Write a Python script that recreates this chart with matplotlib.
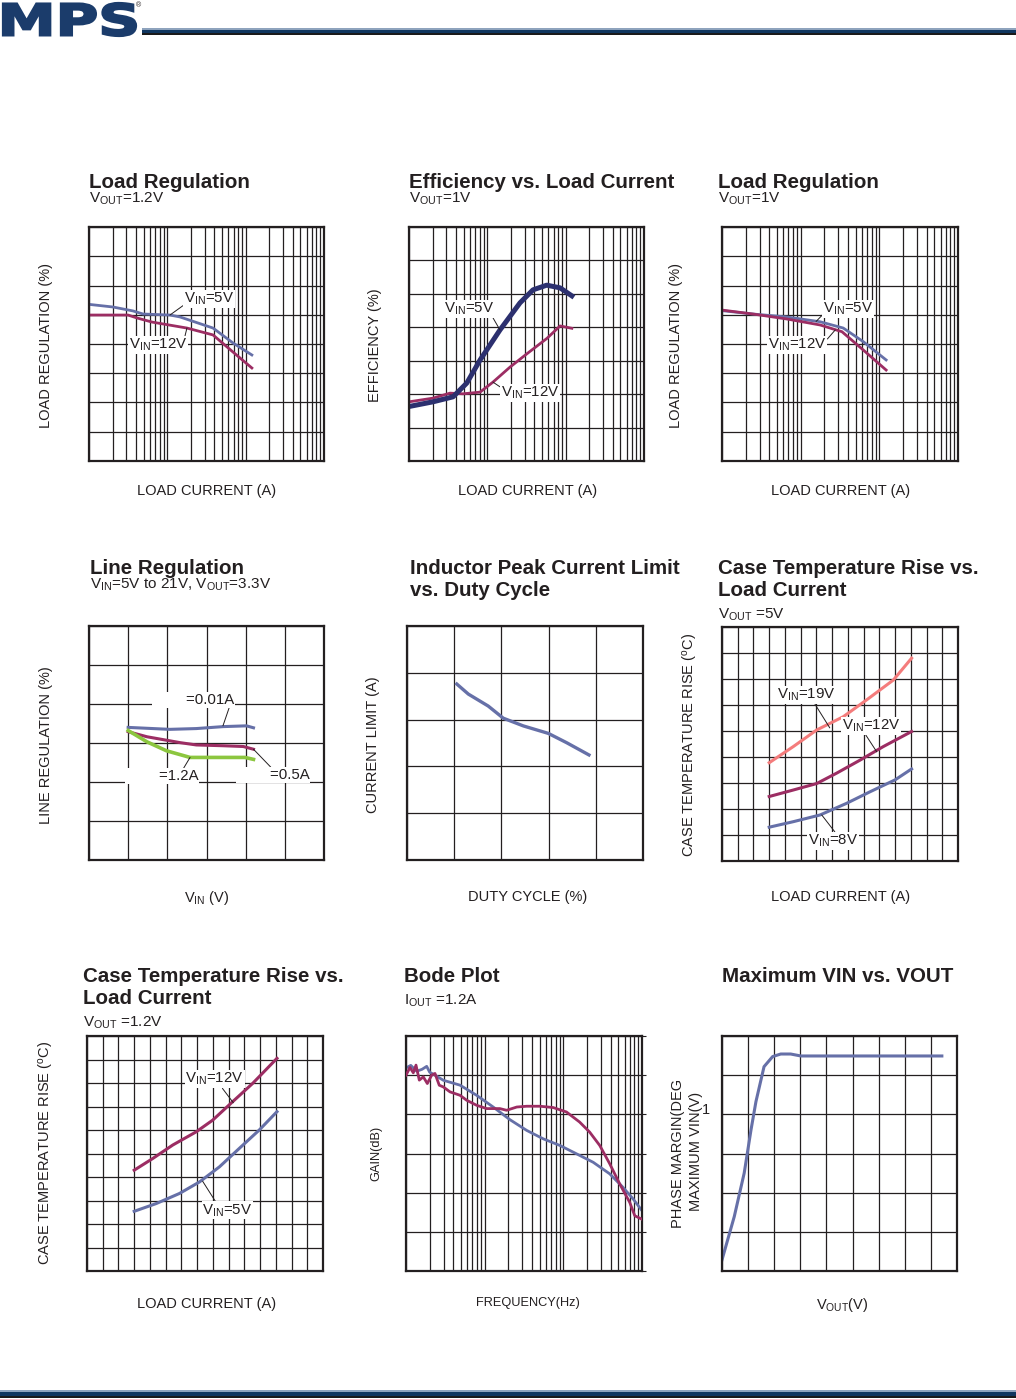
import numpy as np
import matplotlib
matplotlib.use("Agg")
import matplotlib.pyplot as plt
from matplotlib.ticker import MultipleLocator, LogLocator
from matplotlib.textpath import TextPath
from matplotlib.patches import PathPatch, Rectangle
from matplotlib.font_manager import FontProperties
from matplotlib.transforms import Affine2D

plt.rcParams['font.family'] = 'Liberation Sans'
plt.rcParams['mathtext.fontset'] = 'custom'
plt.rcParams['mathtext.rm'] = 'Liberation Sans'
plt.rcParams['mathtext.it'] = 'Liberation Sans:italic'
plt.rcParams['mathtext.bf'] = 'Liberation Sans:bold'

# ---- data ----
# load regulation, Vout=1.2V
lr12_i5 = [0.01, 0.0202, 0.0365, 0.049, 0.108, 0.145, 0.383, 0.689, 1.2]
lr12_v5 = [0.271, 0.253, 0.226, 0.205, 0.198, 0.185, 0.109, 0.007, -0.075]
lr12_i12 = [0.01, 0.0315, 0.041, 0.0637, 0.178, 0.383, 0.689, 1.2]
lr12_v12 = [0.198, 0.198, 0.178, 0.150, 0.109, 0.062, -0.055, -0.164]

# efficiency vs load current
eff_i5 = [0.01, 0.0202, 0.0365, 0.0546, 0.0807, 0.145, 0.261, 0.383, 0.573, 0.848, 1.2]
eff_5 = [46.3, 47.7, 49.2, 53.3, 60.2, 69.2, 77.3, 81.2, 82.6, 81.8, 79.4]
eff_i12 = [0.01, 0.0202, 0.0334, 0.049, 0.0807, 0.118, 0.195, 0.321, 0.578, 0.848, 1.2]
eff_12 = [47.7, 48.8, 50.3, 50.1, 50.6, 53.6, 58.1, 62.1, 66.7, 70.4, 69.7]

# load regulation, Vout=1V
lr1_i5 = [0.01, 0.0248, 0.0667, 0.177, 0.348, 0.625, 1.22]
lr1_v5 = [0.228, 0.205, 0.185, 0.152, 0.109, 0.016, -0.109]
lr1_i12 = [0.01, 0.0248, 0.0667, 0.177, 0.335, 0.625, 1.22]
lr1_v12 = [0.232, 0.205, 0.171, 0.130, 0.084, -0.041, -0.178]

# line regulation
vin_001 = [5, 10.3, 13.7, 17.1, 20.1, 21]
reg_001 = [0.040, 0.035, 0.037, 0.042, 0.044, 0.039]
vin_05 = [5, 7.4, 11.6, 13.7, 17.1, 19.7, 21]
reg_05 = [0.029, 0.016, 0.001, -0.005, -0.007, -0.009, -0.016]
vin_12 = [5, 7.4, 9.9, 12.9, 15.9, 19.9, 21]
reg_12 = [0.032, 0.003, -0.020, -0.037, -0.037, -0.037, -0.042]

# inductor peak current limit vs duty cycle
duty = [21.1, 26, 34.4, 40.8, 49.3, 59.9, 67.7, 77.1]
ilim = [7.52, 7.09, 6.58, 6.06, 5.73, 5.41, 5.01, 4.49]

# case temperature rise, Vout=5V
t5_i19 = [0.6, 0.906, 1.204, 1.542, 1.84, 2.178, 2.41]
t5_19 = [18.9, 22.0, 25.2, 27.75, 31.0, 34.8, 39.0]
t5_i12 = [0.6, 0.906, 1.204, 1.458, 1.755, 2.05, 2.41]
t5_12 = [12.4, 13.65, 14.9, 16.9, 19.4, 22.0, 24.9]
t5_i8 = [0.6, 0.906, 1.246, 1.585, 1.88, 2.2, 2.41]
t5_8 = [6.5, 7.56, 8.85, 11.1, 13.3, 15.6, 17.7]

# case temperature rise, Vout=1.2V
t12_i12 = [0.6, 0.837, 1.09, 1.387, 1.598, 1.85, 2.105, 2.415]
t12_12 = [21.45, 23.95, 26.8, 29.6, 32.1, 36.0, 39.9, 45.25]
t12_i5 = [0.6, 0.88, 1.176, 1.43, 1.683, 1.937, 2.19, 2.415]
t12_5 = [12.7, 14.35, 16.5, 18.95, 22.15, 26.1, 30.0, 33.9]

# bode plot
gain_f = [1020, 1150, 1368, 1600, 1833, 2000, 2224, 2980, 4858, 7916, 12870, 20900,
          34200, 55500, 90500, 147000, 240000, 389000, 574000, 771000, 1000000]
gain_db = [43.9, 45.0, 42.0, 43.0, 44.5, 41.5, 40.5, 37.4, 34.9, 29.7, 23.7, 17.3,
           11.8, 7.5, 4.1, -0.15, -4.5, -10.4, -17.3, -23.2, -29.2]
phase_f = [1000, 1124, 1238, 1340, 1476, 1660, 1866, 2121, 2335, 2647, 2978, 3624,
           4858, 5902, 7916, 10600, 15600, 19000, 25600, 34200, 50400, 74300, 109600,
           161000, 216000, 290000, 389000, 521000, 699000, 810000, 988000]
phase_deg = [150, 155.9, 151.8, 157.7, 146.2, 148.7, 143.6, 150, 151.3, 142.3, 141, 137.2,
             134.6, 130.8, 126.9, 124.4, 124.4, 123.1, 125.6, 126.2, 126.2, 125.2, 121.8,
             114.1, 106.4, 96.2, 82.1, 66.7, 52.5, 42.3, 39.8]

# maximum vin vs vout
vout = [0, 0.47, 0.85, 1.11, 1.30, 1.61, 1.94, 2.25, 2.63, 3.02, 8.42]
vin_max = [1.14, 5.56, 10.0, 14.4, 17.3, 20.87, 21.9, 22.16, 22.16, 21.96, 21.96]

BLUE = '#6670a8'
MAG = '#9c2d63'
NAVY = '#2c306f'
GREEN = '#8cc63f'
PINK = '#f47c7c'
INK = '#231f20'

W, H = 1016, 1399
fig = plt.figure(figsize=(W / 100, H / 100), dpi=100)


def add_ax(l, t, r, b):
    return fig.add_axes([l / W, 1 - b / H, (r - l) / W, (b - t) / H])


def ftext(x, y, s, **kw):
    kw.setdefault('color', INK)
    fig.text(x / W, 1 - y / H, s, **kw)


def style(ax, xlog=False, xstep=None, ystep=None):
    if xlog:
        ax.set_xscale('log')
        ax.xaxis.set_major_locator(LogLocator(base=10))
        ax.xaxis.set_minor_locator(LogLocator(base=10, subs=np.arange(2, 10)))
    else:
        ax.xaxis.set_major_locator(MultipleLocator(xstep))
    ax.yaxis.set_major_locator(MultipleLocator(ystep))
    ax.grid(True, which='both', color=INK, lw=0.9)
    ax.tick_params(which='both', length=0, labelbottom=False, labelleft=False)
    for s in ax.spines.values():
        s.set_linewidth(1.6)
        s.set_color(INK)


def label(ax, s, xy, xytext, relpos=(0, 0), size=10.8):
    ax.annotate(s, xy=xy, xytext=xytext, fontsize=size, ha='left', va='center', color=INK,
                bbox=dict(fc='white', ec='none', pad=0.6),
                arrowprops=dict(arrowstyle='-', lw=0.7, color=INK, relpos=relpos,
                                shrinkA=0, shrinkB=0))


TS = 14.8   # title size
SS = 11     # subtitle size
LS = 10.5   # axis label size

# ---------- row 1 ----------
ax1 = add_ax(89, 227, 324, 461)
style(ax1, xlog=True, ystep=0.2)
ax1.set_xlim(0.01, 10)
ax1.set_ylim(-0.8, 0.8)
ax1.plot(lr12_i5, lr12_v5, color=BLUE, lw=2.0)
ax1.plot(lr12_i12, lr12_v12, color=MAG, lw=2.0)
label(ax1, r'V$_{\rm IN}$=5V', (0.108, 0.198), (0.163, 0.308), relpos=(0.03, 0.2))
label(ax1, r'V$_{\rm IN}$=12V', (0.178, 0.109), (0.0324, -0.007), relpos=(0.92, 0.5))

ax2 = add_ax(409, 227, 644, 461)
style(ax2, xlog=True, ystep=10)
ax2.set_xlim(0.01, 10)
ax2.set_ylim(30, 100)
ax2.plot(eff_i12, eff_12, color=MAG, lw=2.0)
ax2.plot(eff_i5, eff_5, color=NAVY, lw=3.6)
label(ax2, r'V$_{\rm IN}$=5V', (0.145, 69.2), (0.028, 75.5), relpos=(0.95, 0.1))
label(ax2, r'V$_{\rm IN}$=12V', (0.118, 53.6), (0.149, 50.3), relpos=(0.02, 0.8))

ax3 = add_ax(722, 227, 958, 461)
style(ax3, xlog=True, ystep=0.2)
ax3.set_xlim(0.01, 10)
ax3.set_ylim(-0.8, 0.8)
ax3.plot(lr1_i5, lr1_v5, color=BLUE, lw=2.0)
ax3.plot(lr1_i12, lr1_v12, color=MAG, lw=2.0)
label(ax3, r'V$_{\rm IN}$=5V', (0.157, 0.154), (0.194, 0.239), relpos=(0.0, 0.2))
label(ax3, r'V$_{\rm IN}$=12V', (0.275, 0.096), (0.0385, -0.007), relpos=(0.95, 0.6))

ftext(89, 188, 'Load Regulation', fontsize=TS, fontweight='bold')
ftext(409, 188, 'Efficiency vs. Load Current', fontsize=TS, fontweight='bold')
ftext(718, 188, 'Load Regulation', fontsize=TS, fontweight='bold')
ftext(89, 203, r'V$_{\rm OUT}$=1.2V', fontsize=SS)
ftext(409, 203, r'V$_{\rm OUT}$=1V', fontsize=SS)
ftext(718, 203, r'V$_{\rm OUT}$=1V', fontsize=SS)
for x in (207, 528, 841):
    ftext(x, 491, 'LOAD CURRENT (A)', fontsize=LS, ha='center', va='center')
ftext(46, 345, 'LOAD REGULATION (%)', fontsize=LS, rotation=90, ha='center', va='center')
ftext(375, 345, 'EFFICIENCY (%)', fontsize=LS, rotation=90, ha='center', va='center')
ftext(676, 345, 'LOAD REGULATION (%)', fontsize=LS, rotation=90, ha='center', va='center')

# ---------- row 2 ----------
ax4 = add_ax(89, 626, 324, 860)
style(ax4, xstep=5, ystep=0.1)
ax4.set_xlim(0, 30)
ax4.set_ylim(-0.3, 0.3)
ax4.plot(vin_001, reg_001, color=BLUE, lw=2.2)
ax4.plot(vin_05, reg_05, color=MAG, lw=2.2)
ax4.plot(vin_12, reg_12, color=GREEN, lw=2.6)
label(ax4, '        =0.01A', (17.1, 0.044), (8.17, 0.110), relpos=(0.94, 0.0))
label(ax4, '        =1.2A', (12.9, -0.037), (4.68, -0.085), relpos=(0.79, 1.0))
label(ax4, '        =0.5A', (21.0, -0.016), (18.85, -0.082), relpos=(0.48, 1.0))

ax5 = add_ax(407, 626, 643, 860)
style(ax5, xstep=20, ystep=2)
ax5.set_xlim(0, 100)
ax5.set_ylim(0, 10)
ax5.plot(duty, ilim, color=BLUE, lw=2.4)

ax6 = add_ax(722, 627, 958, 861)
style(ax6, xstep=0.2, ystep=5)
ax6.set_xlim(0, 3)
ax6.set_ylim(0, 45)
ax6.plot(t5_i19, t5_19, color=PINK, lw=2.2)
ax6.plot(t5_i12, t5_12, color=MAG, lw=2.2)
ax6.plot(t5_i8, t5_8, color=BLUE, lw=2.2)
label(ax6, r'V$_{\rm IN}$=19V', (1.37, 25.6), (0.70, 31.9), relpos=(0.64, 0.0))
label(ax6, r'V$_{\rm IN}$=12V', (1.967, 21.0), (1.526, 26.0), relpos=(0.34, 0.3))
label(ax6, r'V$_{\rm IN}$=8V', (1.268, 8.85), (1.093, 3.85), relpos=(0.55, 1.0))

ftext(90, 574, 'Line Regulation', fontsize=TS, fontweight='bold')
ftext(90, 589, r'V$_{\rm IN}$=5V to 21V, V$_{\rm OUT}$=3.3V', fontsize=SS)
ftext(410, 574, 'Inductor Peak Current Limit', fontsize=TS, fontweight='bold')
ftext(410, 596, 'vs. Duty Cycle', fontsize=TS, fontweight='bold')
ftext(718, 574, 'Case Temperature Rise vs.', fontsize=TS, fontweight='bold')
ftext(718, 596, 'Load Current', fontsize=TS, fontweight='bold')
ftext(718, 619, r'V$_{\rm OUT}$ =5V', fontsize=SS)
ftext(207, 898, r'V$_{\rm IN}$ (V)', fontsize=LS, ha='center', va='center')
ftext(528, 897, 'DUTY CYCLE (%)', fontsize=LS, ha='center', va='center')
ftext(841, 897, 'LOAD CURRENT (A)', fontsize=LS, ha='center', va='center')
ftext(46, 745, 'LINE REGULATION (%)', fontsize=LS, rotation=90, ha='center', va='center')
ftext(373, 745, 'CURRENT LIMIT (A)', fontsize=LS, rotation=90, ha='center', va='center')
ftext(690, 745, r'CASE TEMPERATURE RISE ($^{\rm o}$C)', fontsize=LS, rotation=90,
      ha='center', va='center')

# ---------- row 3 ----------
ax7 = add_ax(87, 1036, 323, 1271)
style(ax7, xstep=0.2, ystep=5)
ax7.set_xlim(0, 3)
ax7.set_ylim(0, 50)
ax7.plot(t12_i12, t12_12, color=MAG, lw=2.2)
ax7.plot(t12_i5, t12_5, color=BLUE, lw=2.2)
label(ax7, r'V$_{\rm IN}$=12V', (1.86, 35.8), (1.252, 40.8), relpos=(0.62, 0.0))
label(ax7, r'V$_{\rm IN}$=5V', (1.47, 19.1), (1.467, 12.9), relpos=(0.27, 1.0))

ax8 = add_ax(406, 1036, 642, 1271)
style(ax8, xlog=True, ystep=20)
ax8.set_xlim(1e3, 1e6)
ax8.set_ylim(-60, 60)
ax8.plot(gain_f, gain_db, color=BLUE, lw=2.0)
ax8b = ax8.twinx()
ax8b.set_ylim(0, 180)
ax8b.yaxis.set_major_locator(MultipleLocator(30))
ax8b.tick_params(axis='y', length=3, width=0.8, direction='out', labelright=False, color=INK)
for s in ax8b.spines.values():
    s.set_visible(False)
ax8b.plot(phase_f, phase_deg, color=MAG, lw=2.0)

ax9 = add_ax(722, 1036, 957, 1271)
style(ax9, xstep=1, ystep=4)
ax9.set_xlim(0, 9)
ax9.set_ylim(0, 24)
ax9.plot(vout, vin_max, color=BLUE, lw=2.2)

ftext(83, 982, 'Case Temperature Rise vs.', fontsize=TS, fontweight='bold')
ftext(83, 1004, 'Load Current', fontsize=TS, fontweight='bold')
ftext(83, 1027, r'V$_{\rm OUT}$ =1.2V', fontsize=SS)
ftext(404, 982, 'Bode Plot', fontsize=TS, fontweight='bold')
ftext(404, 1005, r'I$_{\rm OUT}$ =1.2A', fontsize=SS)
ftext(722, 982, 'Maximum VIN vs. VOUT', fontsize=TS, fontweight='bold')
ftext(207, 1304, 'LOAD CURRENT (A)', fontsize=LS, ha='center', va='center')
ftext(528, 1303, 'FREQUENCY(Hz)', fontsize=9.2, ha='center', va='center')
ftext(842, 1305, r'V$_{\rm OUT}$(V)', fontsize=LS, ha='center', va='center')
ftext(46, 1153, r'CASE TEMPERATURE RISE ($^{\rm o}$C)', fontsize=LS, rotation=90,
      ha='center', va='center')
ftext(376, 1153, 'GAIN(dB)', fontsize=9.2, rotation=90, ha='center', va='center')
ftext(678, 1153, 'PHASE MARGIN(DEG', fontsize=LS, rotation=90, ha='center', va='center')
ftext(696, 1151, 'MAXIMUM VIN(V)', fontsize=LS, rotation=90, ha='center', va='center')
ftext(706, 1110, '1', fontsize=LS, ha='center', va='center')

# ---------- header / footer ----------
tp = TextPath((0, 0), 'MPS', size=100, prop=FontProperties(family='DejaVu Sans', weight='bold'))
bb = tp.get_extents()
tr = (Affine2D().translate(-bb.x0, -bb.y0)
      .scale(133 / bb.width, 33 / bb.height).translate(3, H - 36))
logo = PathPatch(tr.transform_path(tp), fc='#1b3c6b', ec='#1b3c6b', lw=1.6,
                 transform=Affine2D().scale(1 / W, 1 / H) + fig.transFigure)
fig.add_artist(logo)
ftext(139, 6, '\u00ae', fontsize=5, ha='center', va='center')


def band(x0, x1, y0, y1, color):
    fig.add_artist(Rectangle((x0 / W, 1 - y1 / H), (x1 - x0) / W, (y1 - y0) / H,
                             transform=fig.transFigure, fc=color, ec='none'))


band(142, 1016, 28.3, 30.3, '#8ea3bd')
band(142, 1016, 30.3, 33.3, '#10365f')
band(142, 1016, 33.3, 35, '#1a1a1a')
band(0, 1016, 1389.5, 1391.5, '#8ea3bd')
band(0, 1016, 1391.5, 1396, '#10365f')
band(0, 1016, 1396, 1397.6, '#1a1a1a')

fig.savefig('out.png', dpi=100, facecolor='white')
